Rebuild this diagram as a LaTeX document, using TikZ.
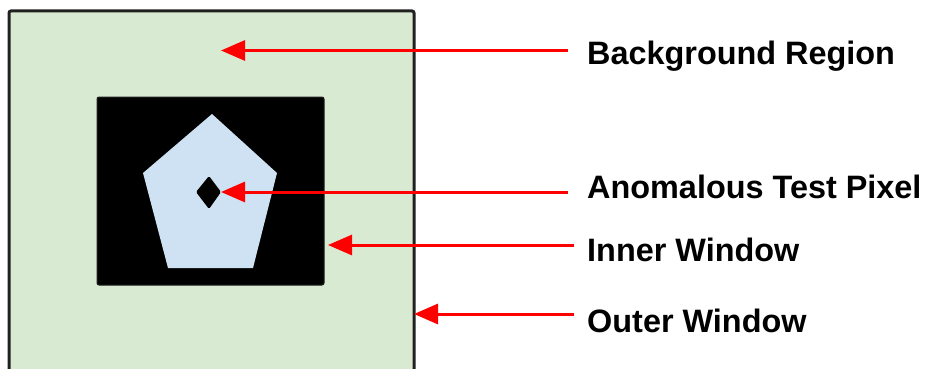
\documentclass[tikz,border=0pt]{standalone}
\usepackage{fontspec}
\setmainfont{Liberation Sans}
\usetikzlibrary{arrows.meta}
\definecolor{outergreen}{HTML}{D9EAD3}
\definecolor{pentblue}{HTML}{CFE2F3}
\definecolor{arrowred}{HTML}{FF0000}
\definecolor{edgegray}{HTML}{202020}
\tikzset{
  lbl/.style={anchor=base west, inner sep=0pt, font=\bfseries\fontsize{32.4}{32.4}\selectfont, text=black},
  pointer/.style={draw=arrowred, line width=3pt, -{Triangle[length=24pt,width=20pt]}},
}
\begin{document}
\begin{tikzpicture}[x=1pt,y=-1pt]
\useasboundingbox (0,0) rectangle (926,369);
\clip (0,0) rectangle (926,369);
% outer window
\path[fill=outergreen, draw=edgegray, line width=3pt, rounded corners=2pt] (9,11) rectangle (414,385);
% inner window
\path[fill=black, draw=edgegray, line width=1pt, rounded corners=2pt] (97,97) rectangle (324,285);
% pentagon
\path[fill=pentblue] (212,114) -- (277,173) -- (253,268) -- (168,268) -- (143,173) -- cycle;
% test pixel
\path[fill=black, rounded corners=1.5pt] (196,192) -- (209,176) -- (221,192) -- (209,209) -- cycle;
% labels
\node[lbl] (bg) at (587,65) {Background Region};
\node[lbl] (an) at (587,198) {Anomalous Test Pixel};
\node[lbl] (iw) at (587,261) {Inner Window};
\node[lbl] (ow) at (587,332) {Outer Window};
% arrow endpoints
\coordinate (bgs) at (568,50.5);
\coordinate (bgt) at (221,50.5);
\coordinate (ans) at (568,192);
\coordinate (ant) at (221,192);
\coordinate (iws) at (574,245);
\coordinate (iwt) at (328,245);
\coordinate (ows) at (574,314);
\coordinate (owt) at (414,314);
\draw[pointer] (bgs) -- (bgt);
\draw[pointer] (ans) -- (ant);
\draw[pointer] (iws) -- (iwt);
\draw[pointer] (ows) -- (owt);
\end{tikzpicture}
\end{document}
